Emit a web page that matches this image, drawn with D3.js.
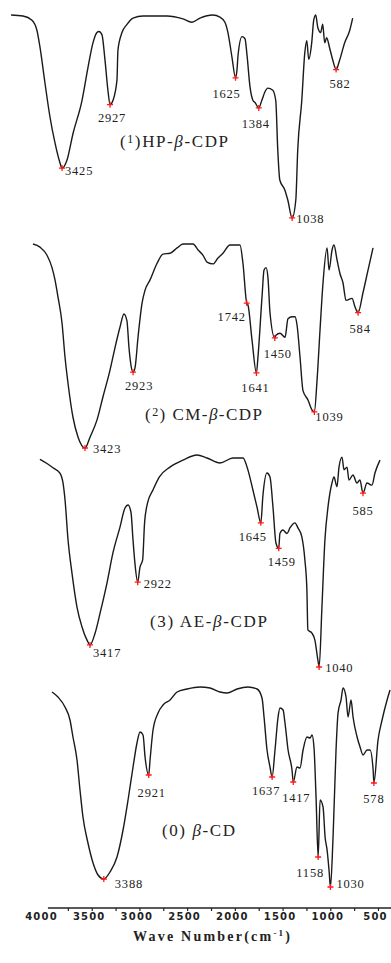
<!DOCTYPE html>
<html><head><meta charset="utf-8">
<script src="https://cdn.jsdelivr.net/npm/d3@7"></script>
<style>html,body{margin:0;padding:0;background:#fff;} svg{display:block;}</style>
</head><body>
<svg id="chart" width="391" height="963"></svg>
<script>
// ---------------- DATA ----------------
const hpWave = [3954,3830,3737,3685,3654,3602,3550,3498,3446,3425,3374,3311,3218,3156,3104,3063,3042,3011,2980,2949,2927,2897,2855,2845,2803,2751,2689,2585,2337,2171,2078,1995,1860,1787,1735,1704,1662,1625,1610,1599,1558,1527,1506,1475,1444,1423,1384,1353,1322,1291,1239,1208,1187,1166,1114,1083,1038,1000,980,938,907,886,866,835,814,793,773,742,721,700,680,649,617,582,545,493,441,410];
const hpT    = [99.5,99,97,92,84,66.5,50,37.4,27.7,25.2,29,42,58,74,86,91,91.5,90,78,63,56,58,68,82.5,91,95,98,99,99,97.6,96,98,99.5,98.5,96,91,79,69,73,80,89,88,80,64.6,58,57,54.4,58,62,64,63,58,34,19.4,14.6,9.7,1,9.7,34,58,81,87,78,86,97,99.5,93.7,91,95,86,88.5,83.5,77.7,73,77.7,86,92,98];
const hpPeaks = [3425,2927,1625,1384,1038,582];

const cmWave = [3964,3891,3818,3766,3735,3704,3662,3631,3600,3548,3496,3423,3370,3298,3236,3163,3111,3059,3018,2987,2966,2944,2923,2902,2872,2830,2799,2747,2675,2612,2539,2466,2404,2300,2248,2196,2155,2092,2041,1989,1916,1812,1781,1742,1729,1687,1641,1625,1583,1562,1541,1521,1500,1450,1438,1396,1344,1313,1271,1240,1219,1188,1157,1105,1063,1039,1011,980,949,907,886,855,835,803,772,741,710,647,616,584,534,481,429];
const cmT    = [99.5,98,94,88,82,73.7,61,44.4,31.7,15,5.4,0,5.4,13.7,25,38,49,59,65.4,62,49,40,37,39.5,54,70.7,77,82,90,94.6,95,97.6,99.5,99.5,96.6,94,90.7,89.8,92.7,95,99,99,90,70.7,69.8,52.7,36.6,44.4,73.7,86.8,88,83,66,53.7,55,56,54,63,64,64,60,44.4,28,23.4,18.5,17.6,33,57.6,80.5,97.6,86.8,96.6,99,91.7,85,80.5,72,73,68.8,66,75.6,86.8,97.6];
const cmPeaks = [3423,2923,1742,1641,1450,1039,584];

const aeWave = [3936,3863,3801,3729,3697,3676,3645,3604,3552,3500,3448,3417,3364,3312,3241,3179,3106,3054,3023,2992,2971,2951,2922,2899,2871,2851,2820,2764,2699,2588,2453,2308,2204,2069,1934,1830,1779,1727,1685,1645,1623,1581,1550,1519,1488,1459,1447,1416,1374,1343,1291,1260,1219,1188,1167,1157,1115,1084,1053,1040,1011,980,948,907,886,855,834,803,782,751,731,689,648,617,585,544,492,461,409];
const aeT    = [98,96,94,91.5,86.8,78.8,60,44.3,28.3,18.9,12.7,10.4,16,25.5,39.6,53.8,66,75,76.4,73,60,49,40,47,50.5,68,77.4,83.5,89.6,94.3,97.6,100,98.6,96.2,98.6,98.6,93,83.5,75.5,68,81,91.5,89.6,75.5,58.5,56,63,64.6,63,65.6,68,65.6,61.3,50.5,36.3,17.5,16,12.7,3.3,0,28.3,60,75.5,86.8,89.6,85,94.3,99,93,94.3,88.2,90.6,86.8,88.2,82,86.8,85.8,91.5,97.6];
const aePeaks = [3417,2922,1645,1459,1040,585];

const cdWave = [3927,3865,3792,3740,3709,3667,3636,3605,3553,3500,3448,3388,3324,3251,3188,3136,3084,3043,3011,2980,2959,2921,2907,2876,2824,2772,2699,2626,2522,2387,2283,2179,2106,2002,1888,1794,1742,1721,1690,1659,1637,1607,1575,1555,1523,1503,1471,1430,1417,1378,1347,1315,1274,1242,1222,1201,1180,1158,1138,1107,1086,1065,1045,1030,1003,972,951,920,899,868,847,816,795,753,722,691,649,618,586,578,535,493,441,410];
const cdT    = [97.5,95,90,83.5,75,63.5,48.5,35,22,12,6,4,7.5,15,28.5,43.5,60,72,77.5,76,65,56,63.5,78.5,87,91,93.5,97.5,99,100,99.5,97.5,97,99,100,99,94.5,85,68.5,60,55,68.5,85,89.5,88.5,82,68.5,58.5,52.5,60,59.5,68.5,75,74.5,76,69.5,45,15,43.5,40,25,18.5,8.5,0,25,68.5,87,93.5,99.5,95,85,93.5,85,75,70,66,68.5,68.5,58.5,52,73.5,83.5,93.5,98.5];
const cdPeaks = [3388,2921,1637,1417,1158,1030,578];

const seriesNames = ["HP-\u03b2-CDP","CM-\u03b2-CDP","AE-\u03b2-CDP","\u03b2-CD"];
const seriesNumbers = ["1","2","3","0"];
const axisTickValues = [4000,3500,3000,2500,2000,1500,1000,500];
const axisMinorValues = [3750,3250,2750,2250,1750,1250,750];
const axisTitleMain = "Wave Number(cm";
const axisTitleSup = "-1";

// ---------------- LAYOUT ----------------
const series = [
  {wave: hpWave, t: hpT, peaks: hpPeaks},
  {wave: cmWave, t: cmT, peaks: cmPeaks},
  {wave: aeWave, t: aeT, peaks: aePeaks},
  {wave: cdWave, t: cdT, peaks: cdPeaks}
];
const layout = [
  {xr:[6.6,344.0], yr:[220,14], title:{x:120,y:147,len:108,sup:true,space:""},
   lab:[[3,7,"start"],[2,17,"middle"],[-9,20,"middle"],[-3,20,"middle"],[4,5,"start"],[4,18,"middle"]]},
  {xr:[29.5,366.2], yr:[448,243], title:{x:145,y:420,len:117,sup:true,space:" "},
   lab:[[8,5,"start"],[6,18,"middle"],[-15,18,"middle"],[-1,19,"middle"],[3,20,"middle"],[1,9,"start"],[2,20,"middle"]]},
  {xr:[33.8,371.2], yr:[667,455], title:{x:150,y:627,len:117,sup:false,space:" "},
   lab:[[3,12,"start"],[6,6,"start"],[-8,18,"middle"],[3,18,"middle"],[6,5,"start"],[0,22,"middle"]]},
  {xr:[45,381.4], yr:[887,687], title:{x:162,y:836,len:73,sup:false,space:" "},
   lab:[[11,9,"start"],[3,22,"middle"],[-6,18,"middle"],[3,20,"middle"],[-8,20,"middle"],[6,1,"start"],[0,20,"middle"]]}
];

const svg = d3.select("#chart");
const serif = "'Liberation Serif','Times New Roman',serif";

series.forEach((s, i) => {
  const L = layout[i];
  const x = d3.scaleLinear().domain([4000, 500]).range(L.xr);
  const y = d3.scaleLinear().domain([0, 100]).range(L.yr);
  const pts = s.wave.map((w, j) => ({w, t: s.t[j]}));
  const line = d3.line().x(d => x(d.w)).y(d => y(d.t)).curve(d3.curveMonotoneX);
  const g = svg.append("g");
  g.append("path").datum(pts).attr("d", line)
    .attr("fill", "none").attr("stroke", "#1a1a1a").attr("stroke-width", 1.4)
    .attr("stroke-linejoin", "round");

  s.peaks.forEach((p, k) => {
    const d = pts.find(q => q.w === p);
    const px = x(d.w), py = y(d.t);
    g.append("path").attr("d", `M${px-3},${py}H${px+3}M${px},${py-3}V${py+3}`)
      .attr("stroke", "#ff1a1a").attr("stroke-width", 1.3);
    const o = L.lab[k];
    g.append("text").attr("x", px + o[0]).attr("y", py + o[1])
      .attr("text-anchor", o[2]).attr("font-family", serif).attr("font-size", 12.5)
      .attr("letter-spacing", 0.8).attr("fill", "#222").text(String(p));
  });

  const T = L.title;
  const tt = g.append("text").attr("x", T.x).attr("y", T.y)
    .attr("font-family", serif).attr("font-size", 17).attr("fill", "#222")
    .attr("textLength", T.len).attr("lengthAdjust", "spacing");
  tt.append("tspan").text("(");
  if (T.sup) tt.append("tspan").attr("font-size", 12).attr("dy", -4).text(seriesNumbers[i]);
  else tt.append("tspan").text(seriesNumbers[i]);
  tt.append("tspan").attr("dy", T.sup ? 4 : 0).text(")" + T.space);
  const parts = seriesNames[i].split("\u03b2");
  tt.append("tspan").text(parts[0]);
  tt.append("tspan").attr("font-style", "italic").text("\u03b2");
  tt.append("tspan").text(parts[1]);
});

// ---------------- AXIS ----------------
const xa = d3.scaleLinear().domain([4000, 500]).range([44.5, 378.5]);
const axisY = 908;
const ax = svg.append("g");
ax.append("line").attr("x1", xa(3964)).attr("x2", 391).attr("y1", axisY).attr("y2", axisY)
  .attr("stroke", "#222").attr("stroke-width", 1.3);
axisTickValues.concat(axisMinorValues).forEach(v => {
  if (xa(v) < xa(3964)) return;
  ax.append("line").attr("x1", xa(v)).attr("x2", xa(v)).attr("y1", axisY).attr("y2", axisY + 3)
    .attr("stroke", "#222").attr("stroke-width", 1.2);
});
axisTickValues.forEach(v => {
  ax.append("text").attr("x", xa(v) - 3).attr("y", 920).attr("text-anchor", "middle")
    .attr("font-family", "'DejaVu Sans',sans-serif").attr("font-weight", "bold")
    .attr("font-size", 10).attr("letter-spacing", 1.2).attr("fill", "#222").text(String(v));
});
const at = ax.append("text").attr("x", 133).attr("y", 941)
  .attr("font-family", serif).attr("font-weight", "bold").attr("font-size", 14)
  .attr("fill", "#222").attr("textLength", 157).attr("lengthAdjust", "spacing");
at.append("tspan").text(axisTitleMain);
at.append("tspan").attr("font-size", 9).attr("dy", -5).text(axisTitleSup);
at.append("tspan").attr("dy", 5).text(")");
</script>
</body></html>
